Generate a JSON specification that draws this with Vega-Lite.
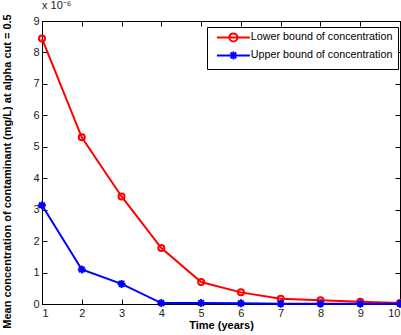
{
  "$schema": "https://vega.github.io/schema/vega-lite/v6.json",
  "width": 358,
  "height": 283,
  "autosize": {"type": "none"},
  "padding": {"left": 42, "top": 21, "right": 1, "bottom": 31},
  "background": "white",
  "title": {
    "text": "x 10⁻⁶",
    "anchor": "start",
    "frame": "group",
    "fontSize": 11,
    "fontWeight": "normal",
    "font": "Liberation Sans",
    "color": "#222",
    "offset": 3
  },
  "config": {
    "font": "Liberation Sans",
    "view": {"stroke": "black", "strokeWidth": 1},
    "axis": {
      "grid": false,
      "domainColor": "black",
      "tickColor": "black",
      "labelColor": "#222",
      "labelFontSize": 11,
      "titleFontSize": 11,
      "titleFontWeight": "bold",
      "titleColor": "black",
      "tickSize": -5,
      "labelPadding": 8
    }
  },
  "data": {
    "values": [
      {"t": 1, "c": 8.44, "s": "Lower bound of concentration"},
      {"t": 2, "c": 5.30, "s": "Lower bound of concentration"},
      {"t": 3, "c": 3.42, "s": "Lower bound of concentration"},
      {"t": 4, "c": 1.78, "s": "Lower bound of concentration"},
      {"t": 5, "c": 0.70, "s": "Lower bound of concentration"},
      {"t": 6, "c": 0.37, "s": "Lower bound of concentration"},
      {"t": 7, "c": 0.17, "s": "Lower bound of concentration"},
      {"t": 8, "c": 0.12, "s": "Lower bound of concentration"},
      {"t": 9, "c": 0.07, "s": "Lower bound of concentration"},
      {"t": 10, "c": 0.03, "s": "Lower bound of concentration"},
      {"t": 1, "c": 3.14, "s": "Upper bound of concentration"},
      {"t": 2, "c": 1.10, "s": "Upper bound of concentration"},
      {"t": 3, "c": 0.64, "s": "Upper bound of concentration"},
      {"t": 4, "c": 0.03, "s": "Upper bound of concentration"},
      {"t": 5, "c": 0.03, "s": "Upper bound of concentration"},
      {"t": 6, "c": 0.02, "s": "Upper bound of concentration"},
      {"t": 7, "c": 0.01, "s": "Upper bound of concentration"},
      {"t": 8, "c": 0.01, "s": "Upper bound of concentration"},
      {"t": 9, "c": 0.01, "s": "Upper bound of concentration"},
      {"t": 10, "c": 0.01, "s": "Upper bound of concentration"}
    ]
  },
  "layer": [
    {
      "mark": {"type": "line", "strokeWidth": 2},
      "encoding": {
        "x": {
          "field": "t",
          "type": "quantitative",
          "scale": {"domain": [1, 10], "nice": false, "zero": false},
          "axis": {"values": [1, 2, 3, 4, 5, 6, 7, 8, 9, 10], "title": "Time (years)", "titlePadding": 1}
        },
        "y": {
          "field": "c",
          "type": "quantitative",
          "scale": {"domain": [0, 9], "nice": false},
          "axis": {"values": [0, 1, 2, 3, 4, 5, 6, 7, 8, 9], "title": "Mean concentration of contaminant (mg/L) at alpha cut = 0.5", "titleX": -30, "titleY": 150, "titleAlign": "center"}
        },
        "color": {
          "field": "s",
          "type": "nominal",
          "scale": {"domain": ["Lower bound of concentration", "Upper bound of concentration"], "range": ["#ff0000", "#0000ff"]},
          "legend": {
            "title": null,
            "orient": "none",
            "legendX": 165,
            "legendY": 6,
            "strokeColor": "black",
            "fillColor": "white",
            "padding": 5,
            "symbolSize": 16,
            "symbolOffset": 16,
            "symbolStrokeWidth": 2,
            "labelOffset": 12,
            "labelFontSize": 10.75,
            "labelColor": "black",
            "rowPadding": 1,
            "encode": {
              "symbols": {
                "update": {
                  "shape": {"signal": "datum.value === 'Lower bound of concentration' ? 'M-8.25,0H8.25M2,0A2,2,0,1,1,-2,0A2,2,0,1,1,2,0' : 'M-8.25,0H8.25M0,-2V2M-1.4,-1.4L1.4,1.4M-1.4,1.4L1.4,-1.4'"},
                  "fill": {"value": "transparent"},
                  "strokeWidth": {"value": 2}
                }
              }
            }
          }
        }
      }
    },
    {
      "transform": [{"filter": "datum.s === 'Lower bound of concentration'"}],
      "mark": {"type": "point", "shape": "circle", "filled": false, "strokeWidth": 2, "opacity": 1, "color": "#ff0000", "size": 36},
      "encoding": {
        "x": {"field": "t", "type": "quantitative", "axis": null},
        "y": {"field": "c", "type": "quantitative", "axis": null}
      }
    },
    {
      "transform": [{"filter": "datum.s === 'Upper bound of concentration'"}],
      "mark": {"type": "point", "shape": "M-1,0H1M0,-1V1M-0.7,-0.7L0.7,0.7M-0.7,0.7L0.7,-0.7", "filled": false, "strokeWidth": 2, "opacity": 1, "color": "#0000ff", "size": 64},
      "encoding": {
        "x": {"field": "t", "type": "quantitative", "axis": null},
        "y": {"field": "c", "type": "quantitative", "axis": null}
      }
    },
    {
      "mark": {"type": "point", "opacity": 0},
      "encoding": {
        "x": {
          "field": "t",
          "type": "quantitative",
          "axis": {"orient": "top", "values": [1, 2, 3, 4, 5, 6, 7, 8, 9, 10], "labels": false, "title": null}
        },
        "y": {
          "field": "c",
          "type": "quantitative",
          "axis": {"orient": "right", "values": [0, 1, 2, 3, 4, 5, 6, 7, 8, 9], "labels": false, "title": null}
        }
      }
    }
  ],
  "resolve": {"axis": {"x": "independent", "y": "independent"}}
}
